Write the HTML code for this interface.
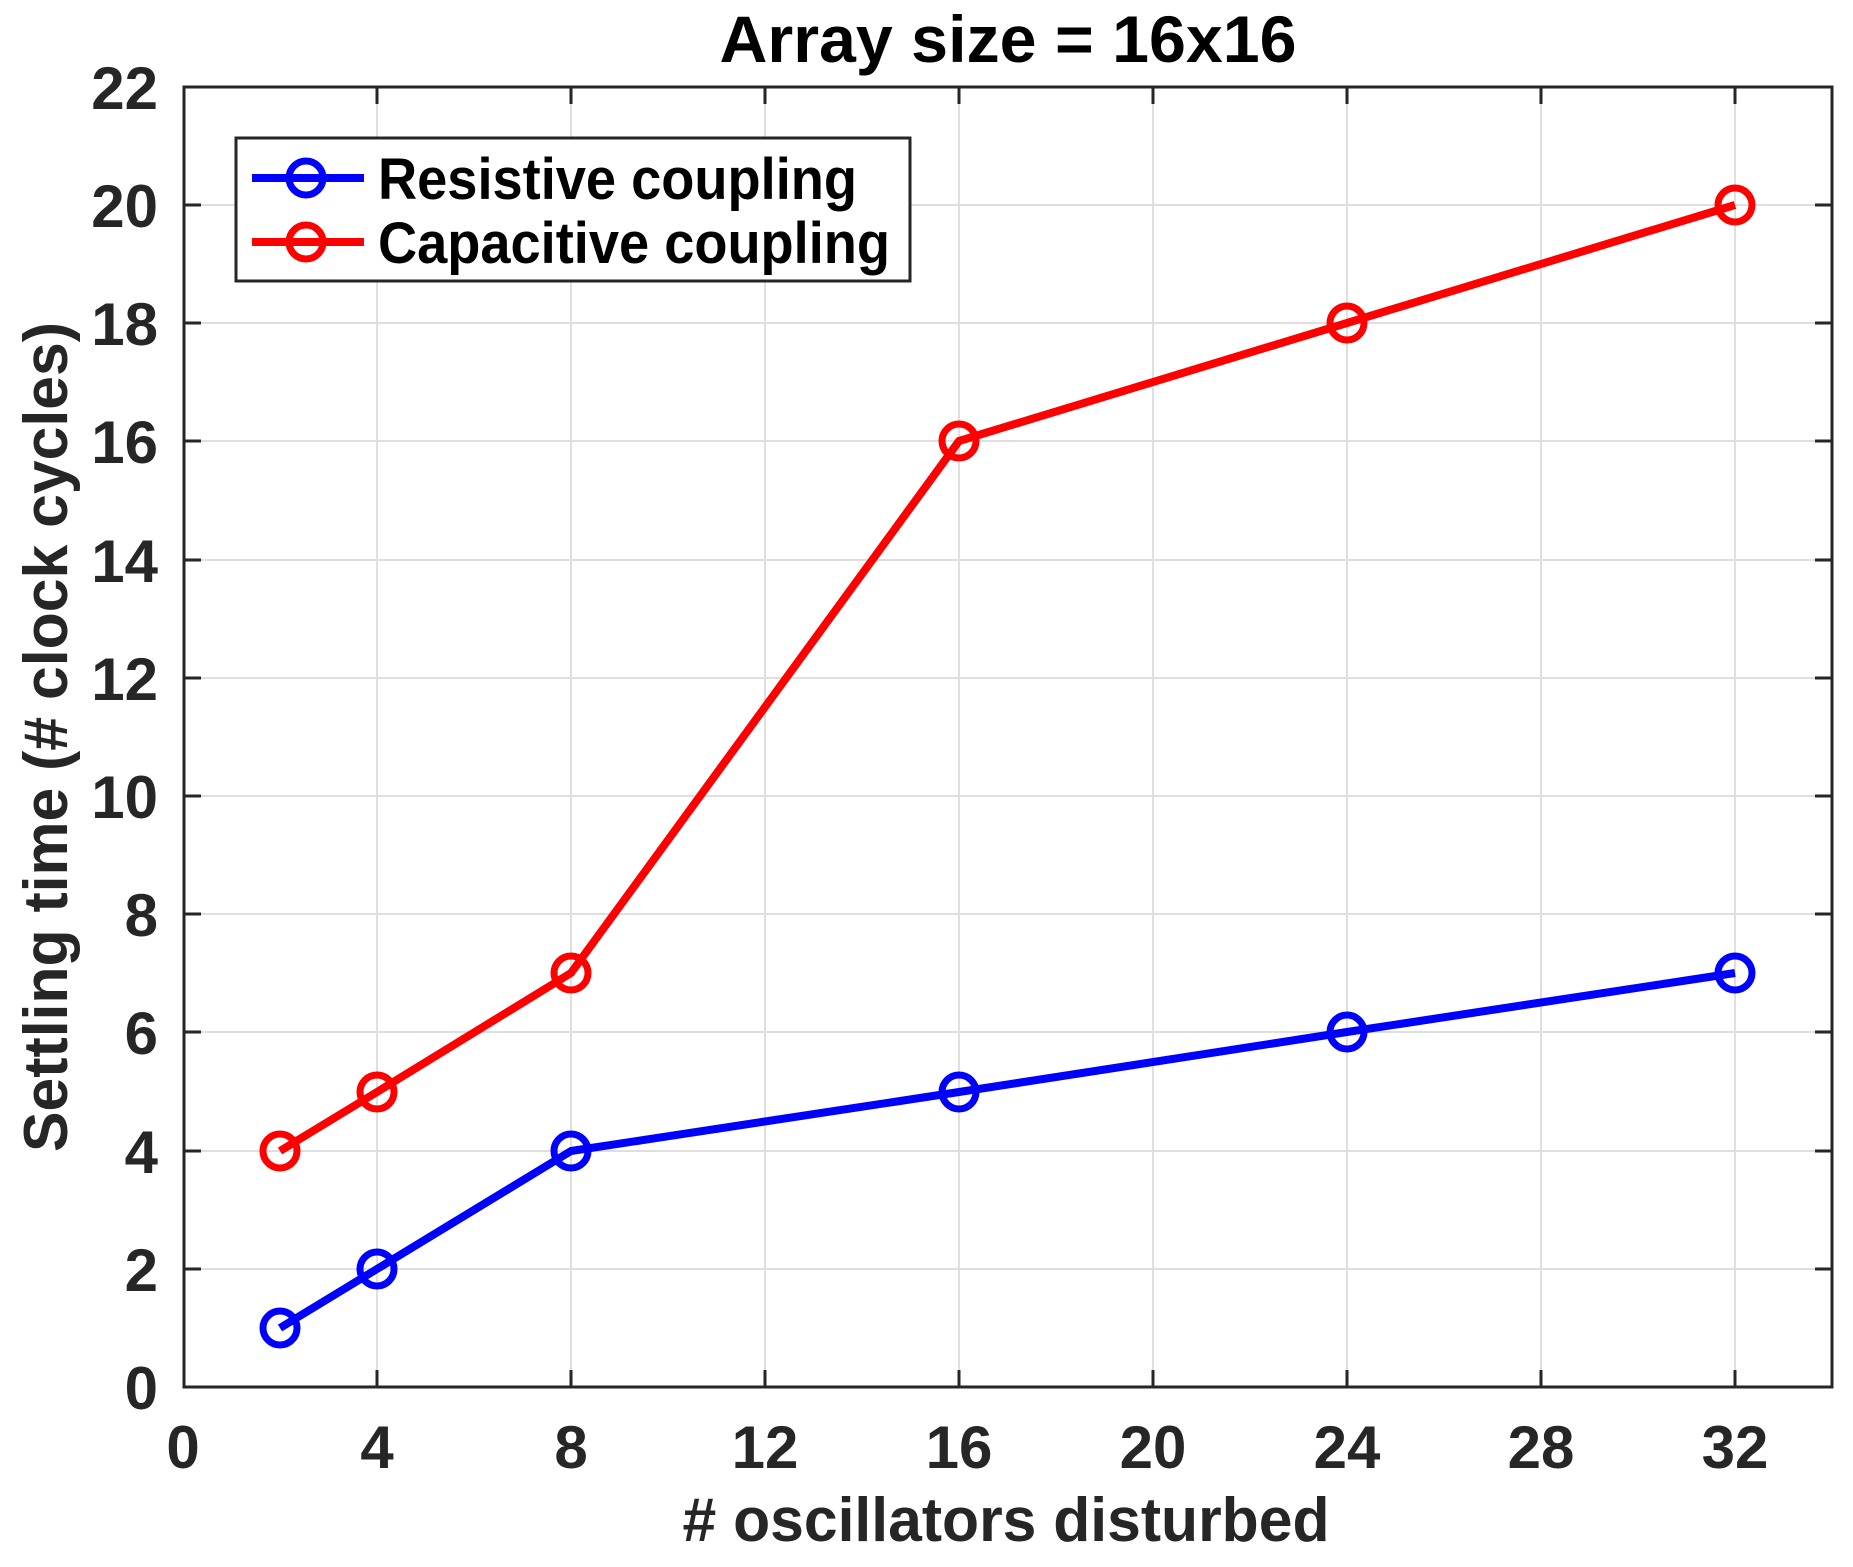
<!DOCTYPE html>
<html><head><meta charset="utf-8"><style>html,body{margin:0;padding:0;background:#fff}svg{display:block}</style></head>
<body>
<svg width="1853" height="1567" viewBox="0 0 1853 1567" xmlns="http://www.w3.org/2000/svg" font-family="Liberation Sans, Arial, sans-serif" font-weight="bold">
<rect width="1853" height="1567" fill="#fff"/>
<g stroke="#dfdfdf" stroke-width="2">
<line x1="377" y1="87" x2="377" y2="1387"/><line x1="571" y1="87" x2="571" y2="1387"/><line x1="765" y1="87" x2="765" y2="1387"/><line x1="959" y1="87" x2="959" y2="1387"/><line x1="1153" y1="87" x2="1153" y2="1387"/><line x1="1347" y1="87" x2="1347" y2="1387"/><line x1="1541" y1="87" x2="1541" y2="1387"/><line x1="1735" y1="87" x2="1735" y2="1387"/>
<line x1="184" y1="1269" x2="1832" y2="1269"/><line x1="184" y1="1151" x2="1832" y2="1151"/><line x1="184" y1="1032" x2="1832" y2="1032"/><line x1="184" y1="914" x2="1832" y2="914"/><line x1="184" y1="796" x2="1832" y2="796"/><line x1="184" y1="678" x2="1832" y2="678"/><line x1="184" y1="560" x2="1832" y2="560"/><line x1="184" y1="441" x2="1832" y2="441"/><line x1="184" y1="323" x2="1832" y2="323"/><line x1="184" y1="205" x2="1832" y2="205"/>
</g>
<g stroke="#262626" stroke-width="3">
<path d="M377 1387v-17M571 1387v-17M765 1387v-17M959 1387v-17M1153 1387v-17M1347 1387v-17M1541 1387v-17M1735 1387v-17M377 87v17M571 87v17M765 87v17M959 87v17M1153 87v17M1347 87v17M1541 87v17M1735 87v17"/>
<path d="M184 1269h17M184 1151h17M184 1032h17M184 914h17M184 796h17M184 678h17M184 560h17M184 441h17M184 323h17M184 205h17M1832 1269h-17M1832 1151h-17M1832 1032h-17M1832 914h-17M1832 796h-17M1832 678h-17M1832 560h-17M1832 441h-17M1832 323h-17M1832 205h-17"/>
<rect x="184" y="87" width="1648" height="1300" fill="none"/>
</g>
<g fill="#262626" font-size="60" text-anchor="middle">
<text x="183" y="1468">0</text><text x="377" y="1468">4</text><text x="571" y="1468">8</text><text x="765" y="1468">12</text><text x="959" y="1468">16</text><text x="1153" y="1468">20</text><text x="1347" y="1468">24</text><text x="1541" y="1468">28</text><text x="1735" y="1468">32</text>
</g>
<g fill="#262626" font-size="60" text-anchor="end">
<text x="158" y="1409">0</text><text x="158" y="1291">2</text><text x="158" y="1173">4</text><text x="158" y="1054">6</text><text x="158" y="936">8</text><text x="158" y="818">10</text><text x="158" y="700">12</text><text x="158" y="582">14</text><text x="158" y="463">16</text><text x="158" y="345">18</text><text x="158" y="227">20</text><text x="158" y="109">22</text>
</g>
<text x="1008" y="62" font-size="66" text-anchor="middle" fill="#000" textLength="577" lengthAdjust="spacingAndGlyphs">Array size = 16x16</text>
<text x="1006" y="1541" font-size="62" text-anchor="middle" fill="#262626" textLength="647" lengthAdjust="spacingAndGlyphs"># oscillators disturbed</text>
<text transform="translate(67,737) rotate(-90)" x="0" y="0" font-size="62" text-anchor="middle" fill="#262626" textLength="830" lengthAdjust="spacingAndGlyphs">Settling time (# clock cycles)</text>
<g fill="none" stroke-width="8" stroke-linejoin="round">
<polyline stroke="#0000ff" points="280,1328 377,1269 571,1151 959,1092 1347,1032 1735,973"/>
<polyline stroke="#ff0000" points="280,1151 377,1092 571,973 959,441 1347,323 1735,205"/>
</g>
<g fill="none" stroke-width="7" stroke="#0000ff">
<circle cx="280" cy="1328" r="17"/><circle cx="377" cy="1269" r="17"/><circle cx="571" cy="1151" r="17"/><circle cx="959" cy="1092" r="17"/><circle cx="1347" cy="1032" r="17"/><circle cx="1735" cy="973" r="17"/>
</g>
<g fill="none" stroke-width="7" stroke="#ff0000">
<circle cx="280" cy="1151" r="17"/><circle cx="377" cy="1092" r="17"/><circle cx="571" cy="973" r="17"/><circle cx="959" cy="441" r="17"/><circle cx="1347" cy="323" r="17"/><circle cx="1735" cy="205" r="17"/>
</g>
<rect x="236" y="138" width="674" height="143" fill="#fff" stroke="#262626" stroke-width="3"/>
<line x1="252" y1="178" x2="364" y2="178" stroke="#0000ff" stroke-width="8"/>
<circle cx="306" cy="178" r="17" fill="none" stroke="#0000ff" stroke-width="7"/>
<line x1="252" y1="242" x2="364" y2="242" stroke="#ff0000" stroke-width="8"/>
<circle cx="306" cy="242" r="17" fill="none" stroke="#ff0000" stroke-width="7"/>
<g fill="#000" font-size="58">
<text x="378" y="199" textLength="479" lengthAdjust="spacingAndGlyphs">Resistive coupling</text>
<text x="378" y="263" textLength="512" lengthAdjust="spacingAndGlyphs">Capacitive coupling</text>
</g>
</svg>
</body></html>
